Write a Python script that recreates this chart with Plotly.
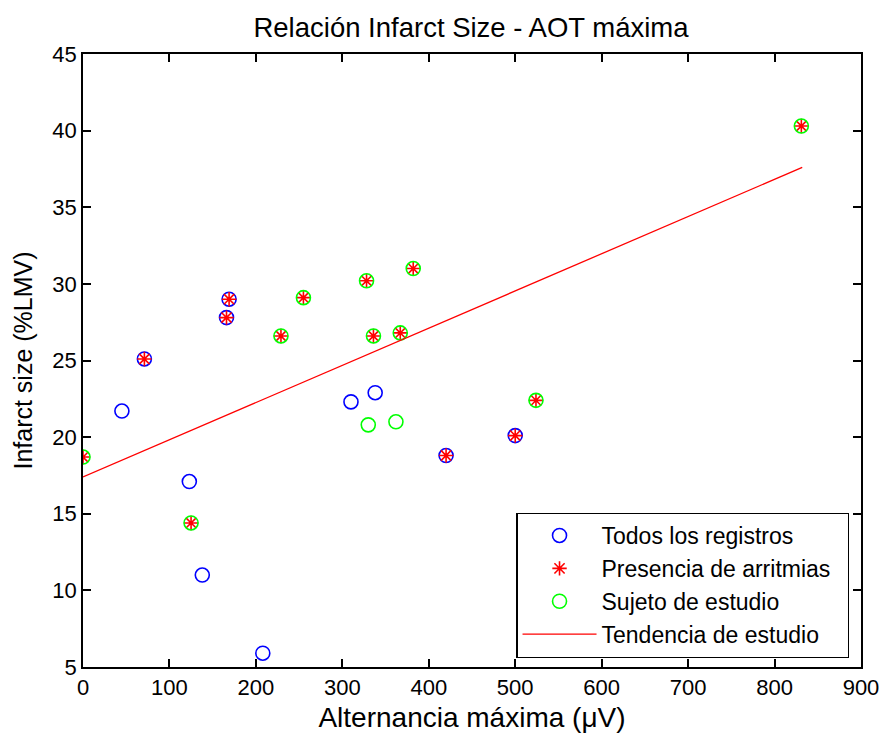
import plotly.graph_objects as go

# Todos los registros (visible blue circles)
todos_x = [45, 71, 166, 169, 123, 138, 208, 310, 338, 420, 500]
todos_y = [21.7, 25.1, 27.8, 29.0, 17.1, 11.0, 5.9, 22.3, 22.9, 18.8, 20.1]

# Presencia de arritmias (red stars)
arr_x = [71, 166, 169, 420, 500, 0, 125, 229, 255, 328, 336, 367, 382, 524, 831]
arr_y = [25.1, 27.8, 29.0, 18.8, 20.1, 18.7, 14.4, 26.6, 29.1, 30.2, 26.6, 26.8, 31.0, 22.4, 40.3]

# Sujeto de estudio (green circles)
suj_x = [0, 125, 229, 255, 328, 336, 367, 382, 524, 831, 330, 362]
suj_y = [18.7, 14.4, 26.6, 29.1, 30.2, 26.6, 26.8, 31.0, 22.4, 40.3, 20.8, 21.0]

# Tendencia de estudio
tend_x = [0, 832]
tend_y = [17.4, 37.6]

x_ticks = [0, 100, 200, 300, 400, 500, 600, 700, 800, 900]
y_ticks = [5, 10, 15, 20, 25, 30, 35, 40, 45]

series_names = ["Todos los registros", "Presencia de arritmias", "Sujeto de estudio", "Tendencia de estudio"]

font = "Liberation Sans, Arial, sans-serif"
pad = "\u00a0\u00a0"

W, H = 880, 733

fig = go.Figure()
fig.add_trace(go.Scatter(x=todos_x, y=todos_y, mode="markers", name=series_names[0] + pad, legendgroup="a",
                         marker=dict(symbol="circle-open", size=14, color="#0000ff", line=dict(width=1.6, color="#0000ff"))))
fig.add_trace(go.Scatter(x=arr_x, y=arr_y, mode="markers", name=series_names[1] + pad, legendgroup="b",
                         marker=dict(symbol="asterisk-open", size=12, color="#ff0000", line=dict(width=1.6, color="#ff0000"))))
fig.add_trace(go.Scatter(x=suj_x, y=suj_y, mode="markers", name=series_names[2] + pad, legendgroup="c",
                         marker=dict(symbol="circle-open", size=14, color="#00ff00", line=dict(width=1.6, color="#00ff00"))))
fig.add_trace(go.Scatter(x=tend_x, y=tend_y, mode="lines", name=series_names[3] + pad, legendgroup="d",
                         line=dict(color="#ff0000", width=1.3)))

fig.update_layout(
    width=W, height=H,
    paper_bgcolor="white", plot_bgcolor="white",
    margin=dict(l=83, r=19, t=54, b=66, autoexpand=False),
    title=dict(text="Relación Infarct Size - AOT máxima", x=471 / W, xanchor="center",
               y=1 - 27 / H, yanchor="middle", yref="container",
               font=dict(family=font, size=27.5, color="black")),
    font=dict(family=font, size=22, color="black"),
    legend=dict(x=0.985, y=0.015, xanchor="right", yanchor="bottom", bgcolor="white",
                bordercolor="black", borderwidth=1.2, font=dict(family=font, size=23, color="black"),
                itemwidth=74, tracegroupgap=0),
    showlegend=True,
)
fig.update_xaxes(range=[0, 900], tickvals=x_ticks, ticktext=[str(v) for v in x_ticks], automargin=False,
                 showgrid=False, zeroline=False, showline=True, linecolor="black", linewidth=1.5,
                 mirror="ticks", ticks="inside", ticklen=8, tickcolor="black", tickwidth=1.5,
                 title=dict(text="Alternancia máxima (μV)", font=dict(family=font, size=28), standoff=20),
                 tickfont=dict(family=font, size=22))
fig.update_yaxes(range=[5, 45], tickvals=y_ticks, ticktext=[str(v) for v in y_ticks], automargin=False,
                 showgrid=False, zeroline=False, showline=True, linecolor="black", linewidth=1.5,
                 mirror="ticks", ticks="inside", ticklen=8, tickcolor="black", tickwidth=1.5,
                 title=dict(text="Infarct size (%LMV)", font=dict(family=font, size=25), standoff=13),
                 tickfont=dict(family=font, size=22))

fig.write_html(
    "out.html",
    config={"displayModeBar": False},
    post_script="document.body.style.margin='0';document.documentElement.style.overflow='hidden';",
)
